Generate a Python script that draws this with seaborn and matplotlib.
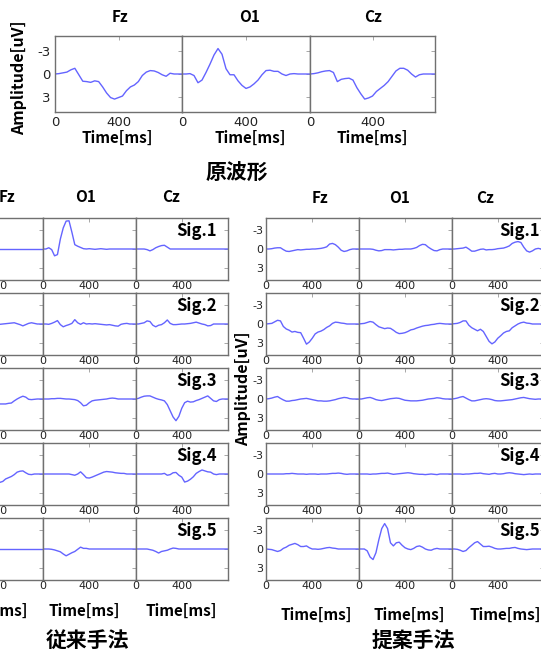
import numpy as np
import matplotlib
matplotlib.use('Agg')
import matplotlib.pyplot as plt
import seaborn as sns

# 時間軸 (ms) 25ms 刻み
TIME_MS = np.arange(0, 801, 25)

# 原波形
orig_fz = [0, -0.05, -0.15, -0.25, -0.55, -0.75, 0.1, 0.95, 1.0, 1.1, 0.9, 1.0, 1.7, 2.5, 3.1, 3.3, 3.1,
           2.9, 2.2, 1.7, 1.45, 1.0, 0.2, -0.25, -0.45, -0.4, -0.2, 0.1, 0.3, -0.1, 0, 0, 0]
orig_o1 = [0, 0, -0.05, 0.2, 1.15, 0.8, -0.2, -1.3, -2.5, -3.35, -2.6, -0.7, 0.1, 0.1, 0.9, 1.5, 1.9,
           1.7, 1.3, 0.8, 0.1, -0.45, -0.5, -0.35, -0.35, 0.0, 0.2, 0.0, -0.05, 0, 0, 0, 0]
orig_cz = [0, -0.05, -0.15, -0.3, -0.4, -0.45, -0.2, 1.0, 0.7, 0.6, 0.55, 0.8, 1.8, 2.6, 3.3, 3.15, 2.9,
           2.3, 1.9, 1.5, 1.0, 0.3, -0.4, -0.75, -0.75, -0.5, 0.0, 0.4, 0.1, 0, 0, 0, 0]

# 従来手法
conv1_fz = [0, 0, 0, 0, 0, 0.05, 0, 0, -0.05, 0, 0, 0, 0.05, 0, 0, 0, 0,
            0, 0, 0, 0, 0, 0, 0, 0, 0, 0, 0, 0, 0, 0, 0, 0]
conv1_o1 = [0, 0, -0.2, 0.1, 1.1, 0.9, -1.6, -3.4, -4.5, -4.55, -2.7, -0.7, -0.45, -0.25, -0.05, 0, -0.05,
            0, 0.05, 0, -0.05, 0, 0.05, 0, 0, 0, 0, 0, 0, 0, 0, 0, 0]
conv1_cz = [0, 0, 0, 0, 0.1, 0.3, 0.1, -0.2, -0.4, -0.55, -0.6, -0.3, 0, 0, 0, 0, 0,
            0, 0, 0, 0, 0, 0, 0, 0, 0, 0, 0, 0, 0, 0, 0, 0]
conv2_fz = [0, 0, -0.1, -0.2, -0.45, -0.4, 0.2, 0.4, 0.2, 0.1, -0.2, -0.6, -0.1, 0.05, 0, 0, 0,
            0.05, 0, -0.05, -0.1, -0.15, -0.2, -0.05, 0.1, 0.3, 0.1, -0.1, -0.2, -0.1, 0, 0, 0]
conv2_o1 = [0, 0, 0.05, -0.1, -0.3, -0.55, 0.1, 0.45, 0.25, 0.1, -0.1, -0.7, -0.2, 0.05, -0.2, 0, -0.05,
            0, -0.05, 0, 0.05, 0.1, 0.15, 0.1, 0.2, 0.3, 0.35, 0.05, -0.05, -0.1, 0, 0, 0]
conv2_cz = [0, 0, -0.1, -0.2, -0.5, -0.4, 0.2, 0.45, 0.2, 0.1, -0.2, -0.65, -0.1, 0.1, 0.1, 0.05, 0,
            0, -0.05, -0.1, -0.2, -0.3, -0.15, 0, 0.1, 0.3, 0.25, 0, 0, 0, 0, 0, 0]
conv3_fz = [0, 0, -0.1, -0.2, -0.3, -0.3, -0.1, 0.1, 0.3, 0.5, 0.6, 0.7, 0.8, 0.9, 0.9, 0.85, 0.8,
            0.8, 0.8, 0.8, 0.7, 0.65, 0.3, 0, -0.25, -0.45, -0.3, 0.05, 0.1, 0.05, 0, 0, 0]
conv3_o1 = [0, 0, 0, -0.05, -0.05, -0.1, -0.1, -0.05, 0, 0, 0.05, 0.1, 0.25, 0.6, 1.1, 1.0, 0.6,
            0.3, 0.2, 0.15, 0.1, 0.05, 0, -0.1, -0.15, -0.1, 0, 0, 0, 0, 0, 0, 0]
conv3_cz = [0, -0.1, -0.3, -0.45, -0.5, -0.5, -0.3, -0.1, 0.05, 0.15, 0.3, 0.9, 1.9, 2.9, 3.5, 2.8, 1.5,
            0.6, 0.35, 0.5, 0.45, 0.25, 0.1, -0.1, -0.3, -0.5, -0.1, 0.3, 0.4, 0.1, 0, 0, 0]
conv4_fz = [0, 0, -0.1, -0.2, -0.3, -0.2, 0.2, 0.4, 0.5, 0.6, 0.6, 0.8, 1.2, 1.7, 2.0, 1.9, 1.6,
            1.35, 1.2, 0.8, 0.6, 0.4, 0.1, -0.3, -0.45, -0.5, -0.2, 0.05, 0.1, 0, 0, 0, 0]
conv4_o1 = [0, 0, 0, 0, 0, 0, 0, 0, 0, 0, 0.1, 0.2, 0, -0.35, 0.1, 0.6, 0.65,
            0.5, 0.3, 0.1, -0.1, -0.3, -0.4, -0.35, -0.3, -0.2, -0.15, -0.1, -0.1, 0, 0, 0, 0]
conv4_cz = [0, 0, 0, 0, 0, 0, 0, 0, 0, 0, -0.1, 0.2, 0.1, -0.2, -0.25, 0.2, 0.5,
            1.3, 1.15, 0.85, 0.45, -0.1, -0.4, -0.65, -0.5, -0.35, -0.3, 0, 0.1, 0, 0, 0, 0]
conv5_fz = [0, 0, 0, 0, 0.05, 0.05, 0, 0, 0, 0, 0, 0, 0, 0, 0, 0, 0,
            0, 0, 0, 0, 0, 0, 0, 0, 0, 0, 0, 0, 0, 0, 0, 0]
conv5_o1 = [0, 0, 0, 0.05, 0.15, 0.3, 0.45, 0.8, 1.1, 0.85, 0.6, 0.4, 0.05, -0.3, -0.1, -0.1, 0,
            0, 0, 0, 0, 0, 0, 0, 0, 0, 0, 0, 0, 0, 0, 0, 0]
conv5_cz = [0, 0, 0, 0, 0, 0.1, 0.2, 0.4, 0.65, 0.4, 0.3, 0.2, 0, -0.15, -0.1, 0, 0,
            0, 0, 0, 0, 0, 0, 0, 0, 0, 0, 0, 0, 0, 0, 0, 0]

# 提案手法
prop1_fz = [0, 0, -0.05, -0.15, -0.2, -0.2, 0.1, 0.35, 0.4, 0.3, 0.2, 0.1, 0.15, 0.1, 0.05, 0.05, 0,
            0, -0.05, -0.1, -0.2, -0.35, -0.8, -0.9, -0.7, -0.3, 0.2, 0.4, 0.3, 0.1, 0, 0, 0]
prop1_o1 = [0, 0, 0, 0, 0, 0.05, 0.2, 0.3, 0.25, 0.1, 0.1, 0.1, 0.15, 0.1, 0.05, 0.05, 0,
            0, 0, -0.1, -0.25, -0.55, -0.75, -0.7, -0.3, 0, 0.25, 0.3, 0.1, 0, 0, 0, 0]
prop1_cz = [0, 0, -0.05, -0.1, -0.15, -0.3, 0, 0.35, 0.35, 0.2, 0.05, 0, 0.15, 0.1, 0.1, 0.05, -0.05,
            -0.1, -0.15, -0.3, -0.5, -0.9, -1.1, -1.2, -1.05, -0.3, 0.3, 0.5, 0.3, 0, -0.1, 0, 0]
prop2_fz = [0, -0.05, -0.1, -0.35, -0.6, -0.5, 0.4, 0.8, 1.0, 1.3, 1.2, 1.35, 1.4, 2.3, 3.25, 2.9, 2.3,
            1.6, 1.3, 1.15, 0.9, 0.55, 0.3, -0.1, -0.3, -0.25, -0.15, -0.1, 0, 0, 0, 0, 0]
prop2_o1 = [0, -0.05, -0.1, -0.25, -0.4, -0.3, 0.1, 0.45, 0.6, 0.75, 0.65, 0.7, 1.0, 1.35, 1.55, 1.5, 1.4,
            1.2, 0.95, 0.85, 0.65, 0.5, 0.35, 0.25, 0.2, 0.1, 0.05, -0.05, -0.1, -0.05, 0, 0, 0]
prop2_cz = [0, -0.05, -0.1, -0.25, -0.5, -0.5, 0.2, 0.6, 0.85, 1.1, 0.85, 1.2, 2.0, 2.8, 3.2, 2.9, 2.3,
            1.9, 1.45, 1.2, 1.1, 0.6, 0.3, 0, -0.2, -0.3, -0.15, -0.1, 0, 0, 0, 0, 0]
prop3_fz = [0, -0.05, -0.15, -0.3, -0.4, -0.1, 0.15, 0.35, 0.35, 0.25, 0.2, 0.1, 0, -0.05, -0.1, 0, 0.1,
            0.2, 0.3, 0.3, 0.35, 0.35, 0.3, 0.2, 0.1, -0.05, -0.15, -0.25, -0.2, -0.05, 0, 0, 0]
prop3_o1 = [0, 0, -0.1, -0.2, -0.25, -0.1, 0.1, 0.2, 0.25, 0.15, 0.05, -0.05, -0.1, -0.15, -0.1, 0.05, 0.2,
            0.25, 0.3, 0.3, 0.3, 0.25, 0.2, 0.1, 0, -0.05, -0.1, -0.2, -0.15, -0.05, 0, 0, 0]
prop3_cz = [0, -0.05, -0.15, -0.3, -0.4, -0.15, 0.1, 0.3, 0.3, 0.2, 0.1, 0, -0.05, 0, 0.1, 0.25, 0.3,
            0.3, 0.25, 0.2, 0.15, 0.1, 0, -0.1, -0.2, -0.25, -0.15, -0.05, 0, 0.05, 0, 0, 0]
prop4_fz = [0, 0, 0, 0, 0, 0, 0, -0.05, -0.05, -0.1, -0.05, 0, 0, 0, 0.05, 0, 0,
            0, 0.05, 0, 0, 0, -0.05, -0.1, -0.1, -0.15, -0.1, 0, 0.05, 0, 0, 0, 0]
prop4_o1 = [0, 0, 0, 0, 0.05, 0, 0, -0.05, -0.1, -0.1, -0.15, -0.05, 0.05, 0, -0.05, -0.1, -0.15,
            -0.2, -0.15, -0.05, 0, 0.05, 0.05, 0.1, 0.05, 0, 0.05, 0.1, 0, 0, 0, 0, 0]
prop4_cz = [0, 0, 0, 0, 0.05, 0, 0, -0.05, -0.1, -0.1, -0.15, -0.05, 0, 0.05, -0.05, -0.1, 0,
            0, -0.05, -0.15, -0.2, -0.15, -0.05, 0, 0.05, 0.1, 0.05, 0, 0.05, 0, 0, 0, 0]
prop5_fz = [0, 0.05, 0.1, 0.25, 0.4, 0.25, -0.1, -0.3, -0.6, -0.75, -0.9, -0.7, -0.4, -0.4, -0.5, -0.2, 0,
            0, 0.05, 0, -0.1, -0.2, -0.25, -0.15, -0.1, 0, 0, 0, 0, 0, 0, 0, 0]
prop5_o1 = [0, 0, 0, 0.3, 1.3, 1.7, 0.6, -1.5, -3.3, -4.1, -3.3, -1.0, -0.5, -1.0, -1.1, -0.6, -0.2,
            0, 0.1, -0.1, -0.4, -0.5, -0.3, 0, 0.15, 0.2, 0, -0.1, 0, 0, 0, 0, 0]
prop5_cz = [0, 0, 0.05, 0.2, 0.4, 0.25, -0.2, -0.6, -1.0, -1.2, -0.8, -0.4, -0.4, -0.45, -0.3, -0.1, 0,
            0, -0.05, -0.1, -0.1, -0.2, -0.25, -0.1, 0, 0.05, 0.1, 0.05, 0, 0, 0, 0, 0]

CHANNELS = ['Fz', 'O1', 'Cz']
SIG_LABELS = ['Sig.1', 'Sig.2', 'Sig.3', 'Sig.4', 'Sig.5']
conv_rows = [[conv1_fz, conv1_o1, conv1_cz], [conv2_fz, conv2_o1, conv2_cz], [conv3_fz, conv3_o1, conv3_cz],
             [conv4_fz, conv4_o1, conv4_cz], [conv5_fz, conv5_o1, conv5_cz]]
prop_rows = [[prop1_fz, prop1_o1, prop1_cz], [prop2_fz, prop2_o1, prop2_cz], [prop3_fz, prop3_o1, prop3_cz],
             [prop4_fz, prop4_o1, prop4_cz], [prop5_fz, prop5_o1, prop5_cz]]

LINE_COLOR = '#6464ff'
W, H = 541, 652

sns.set_style('white')
plt.rcParams['font.family'] = ['DejaVu Sans']
plt.rcParams['axes.unicode_minus'] = False
BOLD = dict(family=['Noto Sans CJK JP', 'DejaVu Sans'], weight='bold', color='black')

fig = plt.figure(figsize=(W / 100, H / 100), dpi=100)


def px_axes(x0, y0, x1, y1):
    return fig.add_axes([x0 / W, 1 - y1 / H, (x1 - x0) / W, (y1 - y0) / H])


def px_text(x, y, s, size, **kw):
    fig.text(x / W, 1 - y / H, s, size=size, ha='center', va='center', **BOLD, **kw)


def draw_panel(ax, values, labelsize, show_y, xpad, ypad):
    sns.lineplot(x=TIME_MS, y=values, ax=ax, color=LINE_COLOR, linewidth=1.0)
    ax.set_xlim(0, 800)
    ax.set_ylim(5, -5)
    ax.set_xticks([0, 400])
    ax.set_yticks([-3, 0, 3])
    ax.tick_params(direction='in', top=True, right=True, length=3, width=0.6, color='#999999',
                   labelsize=labelsize, labelcolor='#222222')
    ax.tick_params(axis='x', pad=xpad)
    ax.tick_params(axis='y', pad=ypad)
    if not show_y:
        ax.set_yticklabels([])
    ax.set_xlabel('')
    ax.set_ylabel('')
    for s in ax.spines.values():
        s.set_color('#707070')
        s.set_linewidth(1.0)


# 原波形
top_cols = [(55, 182), (182, 310), (310, 435)]
for j, vals in enumerate([orig_fz, orig_o1, orig_cz]):
    ax = px_axes(top_cols[j][0], 36, top_cols[j][1], 112)
    draw_panel(ax, vals, 9.5, j == 0, 3, 3)
for x, ch in zip([120, 250, 373], CHANNELS):
    px_text(x, 17, ch, 11)
for x in [117, 250, 372]:
    px_text(x, 138, 'Time[ms]', 11)
px_text(19, 78, 'Amplitude[uV]', 11.5, rotation=90)
px_text(237, 173, '原波形', 15)

# 下段の2つのパネル
row_y = [(218, 280), (293, 355), (368, 430), (443, 505), (518, 580)]
conv_cols = [(-49, 43), (43, 135.5), (135.5, 228)]
prop_cols = [(266, 358.5), (358.5, 451.5), (451.5, 544)]

for rows, cols, sig_x in [(conv_rows, conv_cols, 217), (prop_rows, prop_cols, 540)]:
    for i, (y0, y1) in enumerate(row_y):
        for j in range(3):
            ax = px_axes(cols[j][0], y0, cols[j][1], y1)
            draw_panel(ax, rows[i][j], 8, j == 0, 0.5, 2)
        fig.text(sig_x / W, 1 - (y0 + 13) / H, SIG_LABELS[i], size=12, ha='right', va='center', **BOLD)

for x, ch in zip([7, 86, 171], CHANNELS):
    px_text(x, 197, ch, 11)
for x, ch in zip([320, 400, 485], CHANNELS):
    px_text(x, 198, ch, 11)
for x in [-8, 84, 181]:
    px_text(x, 611, 'Time[ms]', 11)
for x in [316, 409, 505]:
    px_text(x, 615, 'Time[ms]', 11)
px_text(243, 389, 'Amplitude[uV]', 11.5, rotation=90)
px_text(87, 640, '従来手法', 15)
px_text(413, 640, '提案手法', 15)

fig.savefig('out.png', dpi=100)
